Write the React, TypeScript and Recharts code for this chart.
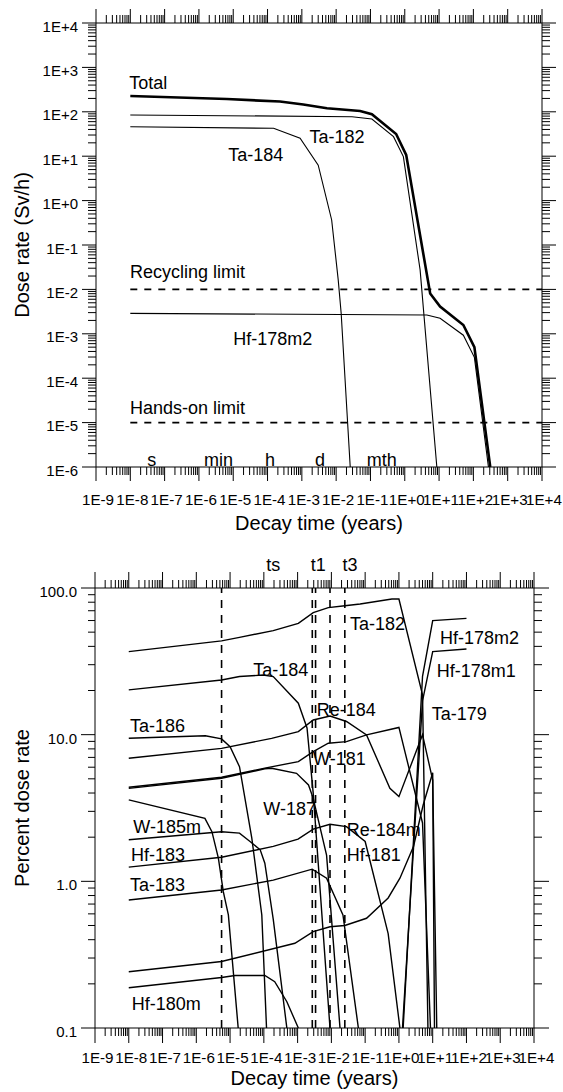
import { ComposedChart, Line, XAxis, YAxis, ReferenceLine, ReferenceDot } from 'recharts'

type Pt = { t: number; v: number }
const pts = (rows: number[][]): Pt[] => rows.map(([t, v]) => ({ t, v }))

// axes
const timeDecades = [-9, -8, -7, -6, -5, -4, -3, -2, -1, 0, 1, 2, 3, 4]
const timeTickLabels = ['1E-9', '1E-8', '1E-7', '1E-6', '1E-5', '1E-4', '1E-3', '1E-2', '1E-1', '1E+0', '1E+1', '1E+2', '1E+3', '1E+4']
const doseDecades = [-6, -5, -4, -3, -2, -1, 0, 1, 2, 3, 4]
const doseTickLabels = ['1E-6', '1E-5', '1E-4', '1E-3', '1E-2', '1E-1', '1E+0', '1E+1', '1E+2', '1E+3', '1E+4']
const pctDecades = [-1, 0, 1, 2]
const pctTickLabels = ['0.1', '1.0', '10.0', '100.0']

// dose rate (Sv/h) vs decay time (years)
const totalDose = pts([[1e-8, 227], [6.5e-6, 194], [2.3e-4, 170], [1.1e-3, 146], [5.4e-3, 120], [5e-2, 104], [0.11, 88], [0.56, 31.6], [1.1, 10.7], [5.5, 8.1e-3], [10.7, 4.1e-3], [51, 1.58e-3], [107, 5e-4], [310, 1e-6]])
const ta182Dose = pts([[1e-8, 85], [2.9e-2, 77.6], [0.11, 68.9], [0.47, 27.5], [0.91, 9.8], [2.8, 2.75e-2], [8.6, 1e-6]])
const ta184Dose = pts([[1e-8, 46], [1.5e-4, 42.5], [8.9e-4, 25.3], [3e-3, 6.3], [7.4e-3, 0.366], [1.15e-2, 1.62e-2], [1.4e-2, 2.9e-3], [2.57e-2, 1e-6]])
const hf178m2Dose = pts([[1e-8, 2.88e-3], [4.4, 2.65e-3], [10.7, 2.24e-3], [51, 9.3e-4], [107, 2.95e-4], [275, 1e-6]])
const recyclingLimit = pts([[1e-8, 1e-2], [1e4, 1e-2]])
const handsOnLimit = pts([[1e-8, 1e-5], [1e4, 1e-5]])

// percent dose rate vs decay time (years)
const ta182Pct = pts([[1e-8, 36.8], [5.6e-6, 43.6], [1.9e-5, 46.1], [1.9e-4, 51.2], [1.05e-3, 57.4], [2.9e-3, 68.0], [8.1e-3, 73.5], [2.5e-2, 75.7], [7.1e-2, 77.8], [0.62, 84.1], [1, 84.1], [5, 18.7], [10, 0.001]])
const ta184Pct = pts([[1e-8, 20.2], [5.6e-6, 23.6], [1.9e-5, 24.9], [9.6e-5, 25.5], [1.9e-4, 24.9], [1.05e-3, 16.4], [1.9e-3, 11.1], [2.9e-3, 3.98], [9.1e-3, 0.1]])
const ta186Pct = pts([[1e-8, 9.45], [1.85e-6, 9.84], [5.6e-6, 9.36], [1e-5, 8.28], [1.9e-5, 6.05], [4.4e-5, 1.97], [8.7e-5, 0.59], [1.2e-4, 0.1]])
const re184Pct = pts([[1e-8, 6.9], [5.6e-6, 8.07], [1.7e-4, 9.44], [1.05e-3, 10.5], [2.9e-3, 12.6], [9.1e-3, 13.4], [2.8e-2, 12.3], [0.11, 9.96], [0.54, 4.31], [1, 3.78], [5, 10], [10, 4.9], [13.2, 0.1]])
const w181Pct = pts([[1e-8, 4.38], [5.6e-6, 5.13], [1.07e-4, 5.91], [1.05e-3, 6.55], [2.9e-3, 7.66], [8.1e-3, 8.74], [2.8e-2, 8.96], [0.11, 9.96], [1, 11.2], [5, 2.5], [8.6, 0.1]])
const w187Pct = pts([[1e-8, 4.3], [5.6e-6, 5.05], [1.07e-4, 5.85], [1.7e-4, 5.9], [9.3e-4, 5.45], [2.1e-3, 4.54], [2.9e-3, 3.68], [7.2e-3, 1.51], [1.8e-2, 0.1]])
const w185mPct = pts([[1e-8, 3.59], [1.8e-6, 2.69], [2.9e-6, 2.18], [4.5e-6, 1.44], [6.3e-6, 0.85], [8.9e-6, 0.59], [1.74e-5, 0.1]])
const hf183Pct = pts([[1e-8, 1.92], [5.6e-6, 2.18], [1.9e-5, 2.13], [3.9e-5, 1.87], [7.8e-5, 1.64], [1.07e-4, 1.33], [1.9e-4, 0.55], [4.8e-4, 0.1]])
const hf181Pct = pts([[1e-8, 1.25], [5.6e-6, 1.46], [1.9e-4, 1.73], [1.03e-3, 1.94], [2.9e-3, 2.27], [9.1e-3, 2.45], [2.8e-2, 2.36], [0.1, 1.87], [0.48, 0.44], [1.07, 0.1]])
const ta183Pct = pts([[1e-8, 0.746], [5.6e-6, 0.873], [1.9e-4, 1.02], [2.7e-3, 1.21], [7.2e-3, 1.05], [2.2e-2, 0.59], [6.3e-2, 0.1]])
const ta179Pct = pts([[1e-8, 0.242], [5.6e-6, 0.284], [8.3e-4, 0.378], [2.9e-3, 0.454], [9.1e-3, 0.49], [2.5e-2, 0.5], [0.11, 0.56], [0.48, 0.77], [1.07, 1.05], [2.7, 1.73], [5.2, 3.3], [10, 5.5], [11.3, 0.1]])
const hf180mPct = pts([[1e-8, 0.188], [5.6e-6, 0.221], [1.4e-5, 0.228], [1.07e-4, 0.228], [2.1e-4, 0.207], [4.8e-4, 0.151], [1.05e-3, 0.1]])
const hf178m2Pct = pts([[1, 0.03], [5, 25], [10, 59.9], [100, 62.1]])
const hf178m1Pct = pts([[1, 0.04], [5, 17], [10, 36.8], [100, 38.4]])
const markerTimes = [5.6e-6, 2.72e-3, 3.4e-3, 9.1e-3, 2.5e-2]

const pctSeries = [ta182Pct, ta184Pct, ta186Pct, re184Pct, w181Pct, w187Pct, w185mPct, hf183Pct, hf181Pct, ta183Pct, ta179Pct, hf180mPct, hf178m2Pct, hf178m1Pct]

// annotations (left edge / centre, in data units)
const doseNotes = [
  { text: 'Total', t: 9.35e-9, v: 452 },
  { text: 'Ta-182', t: 1.66e-3, v: 27.5 },
  { text: 'Ta-184', t: 7.2e-6, v: 10.6 },
  { text: 'Recycling limit', t: 9.8e-9, v: 0.0247 },
  { text: 'Hf-178m2', t: 1.0e-5, v: 7.9e-4 },
  { text: 'Hands-on limit', t: 9.8e-9, v: 2.2e-5 },
]
const unitNotes = [
  { text: 's', t: 4.2e-8, v: 1.5e-6 },
  { text: 'min', t: 3.7e-6, v: 1.5e-6 },
  { text: 'h', t: 1.18e-4, v: 1.5e-6 },
  { text: 'd', t: 3.4e-3, v: 1.5e-6 },
  { text: 'mth', t: 0.213, v: 1.5e-6 },
]
const pctNotes = [
  { text: 'Ta-182', t: 0.0356, v: 57.5 },
  { text: 'Hf-178m2', t: 16.4, v: 45.8 },
  { text: 'Hf-178m1', t: 13.1, v: 27.2 },
  { text: 'Ta-179', t: 9.33, v: 14.0 },
  { text: 'Ta-184', t: 4.88e-5, v: 27.6 },
  { text: 'Re-184', t: 3.67e-3, v: 14.9 },
  { text: 'W-181', t: 2.85e-3, v: 6.9 },
  { text: 'Ta-186', t: 1.09e-8, v: 11.5 },
  { text: 'W-187', t: 9.6e-5, v: 3.15 },
  { text: 'W-185m', t: 1.36e-8, v: 2.36 },
  { text: 'Hf-183', t: 1.16e-8, v: 1.51 },
  { text: 'Ta-183', t: 1.09e-8, v: 0.955 },
  { text: 'Re-184m', t: 0.0284, v: 2.24 },
  { text: 'Hf-181', t: 0.0284, v: 1.51 },
  { text: 'Hf-180m', t: 1.22e-8, v: 0.1476 },
]
const timeNotes = [
  { text: 'ts', t: 1.9e-4, v: 143.5 },
  { text: 't1', t: 4.1e-3, v: 143.5 },
  { text: 't3', t: 0.0356, v: 143.5 },
]

const majorsOf = (decades: number[]) => decades.map((k) => Number(`1e${k}`))
const withMinors = (decades: number[]) => {
  const out: number[] = []
  decades.forEach((k, i) => {
    out.push(Number(`1e${k}`))
    if (i < decades.length - 1) for (let j = 2; j <= 9; j++) out.push(Number(`${j}e${k}`))
  })
  return out
}

type Side = 'bottom' | 'top' | 'left' | 'right'
function axisTick(side: Side, majors: number[], labels: string[] | null, major: number, minor: number, dx = 0, dy = 0, fs = 15) {
  return (props: any) => {
    const { x, y, payload } = props
    const val = Number(payload?.value)
    const idx = majors.findIndex((m) => Math.abs(m - val) <= m * 1e-6)
    const len = idx >= 0 ? major : minor
    let x2 = x
    let y2 = y
    if (side === 'bottom') y2 = y + len
    if (side === 'top') y2 = y - len
    if (side === 'left') x2 = x - len
    if (side === 'right') x2 = x + len
    const text = labels && idx >= 0 ? labels[idx] : null
    return (
      <g>
        <line x1={x} y1={y} x2={x2} y2={y2} stroke="#000" strokeWidth={1} />
        {text &&
          (side === 'bottom' ? (
            <text x={x + dx} y={y + dy} textAnchor="middle" fontSize={fs} fill="#000">
              {text}
            </text>
          ) : (
            <text x={x - dx} y={y + dy} textAnchor="end" fontSize={fs} fill="#000">
              {text}
            </text>
          ))}
      </g>
    )
  }
}

const AX = { stroke: '#000', strokeWidth: 1 }
const timeMajors = majorsOf(timeDecades)
const timeTicks = withMinors(timeDecades)
const doseMajors = majorsOf(doseDecades)
const doseTicks = withMinors(doseDecades)
const pctMajors = majorsOf(pctDecades)
const pctTicks = withMinors(pctDecades)

const note = (n: { text: string; t: number; v: number }, position: 'right' | 'center', key: string) => (
  <ReferenceDot
    key={key}
    x={n.t}
    y={n.v}
    r={0}
    fill="none"
    stroke="none"
    ifOverflow="visible"
    label={{ value: n.text, position, offset: 0, fontSize: 18, fill: '#000' }}
  />
)

function DoseChart() {
  return (
    <ComposedChart width={563} height={540} margin={{ top: 0, right: 0, bottom: 0, left: 0 }}>
      <XAxis dataKey="t" type="number" scale="log" domain={[1e-9, 1e4]} allowDataOverflow ticks={timeTicks} interval={0}
        tickSize={0} tickMargin={0} tickLine={false} axisLine={AX} height={73}
        tick={axisTick('bottom', timeMajors, timeTickLabels, 14, 8, 2, 38.4, 15.2)}
        label={{ value: 'Decay time (years)', position: 'insideBottom', offset: 10, fontSize: 20, fill: '#000' }} />
      <XAxis xAxisId="top" dataKey="t" orientation="top" type="number" scale="log" domain={[1e-9, 1e4]} allowDataOverflow
        ticks={timeTicks} interval={0} tickSize={0} tickMargin={0} tickLine={false} axisLine={AX} height={23}
        tick={axisTick('top', timeMajors, null, 14, 8)} />
      <YAxis dataKey="v" type="number" scale="log" domain={[1e-6, 1e4]} allowDataOverflow ticks={doseTicks} interval={0}
        tickSize={0} tickMargin={0} tickLine={false} axisLine={AX} width={96}
        tick={axisTick('left', doseMajors, doseTickLabels, 14, 8, 18, 8.5)}
        label={{ value: 'Dose rate (Sv/h)', angle: -90, position: 'insideLeft', offset: 22, fontSize: 20, fill: '#000', style: { textAnchor: 'middle' } }} />
      <YAxis yAxisId="right" dataKey="v" orientation="right" type="number" scale="log" domain={[1e-6, 1e4]} allowDataOverflow
        ticks={doseTicks} interval={0} tickSize={0} tickMargin={0} tickLine={false} axisLine={AX} width={21}
        tick={axisTick('right', doseMajors, null, 14, 8)} />
      <Line data={recyclingLimit} dataKey="v" stroke="#000" strokeWidth={1.8} strokeDasharray="7 7" dot={false} activeDot={false} isAnimationActive={false} />
      <Line data={handsOnLimit} dataKey="v" stroke="#000" strokeWidth={1.8} strokeDasharray="7 7" dot={false} activeDot={false} isAnimationActive={false} />
      <Line data={ta184Dose} dataKey="v" stroke="#000" strokeWidth={1.1} dot={false} activeDot={false} isAnimationActive={false} />
      <Line data={ta182Dose} dataKey="v" stroke="#000" strokeWidth={1.1} dot={false} activeDot={false} isAnimationActive={false} />
      <Line data={hf178m2Dose} dataKey="v" stroke="#000" strokeWidth={1.1} dot={false} activeDot={false} isAnimationActive={false} />
      <Line data={totalDose} dataKey="v" stroke="#000" strokeWidth={2.6} dot={false} activeDot={false} isAnimationActive={false} />
      {doseNotes.map((n, i) => note(n, 'right', `dn${i}`))}
      {unitNotes.map((n, i) => note(n, 'center', `un${i}`))}
    </ComposedChart>
  )
}

function PercentChart() {
  return (
    <ComposedChart width={563} height={552} margin={{ top: 0, right: 0, bottom: 0, left: 0 }}>
      <XAxis dataKey="t" type="number" scale="log" domain={[1e-9, 1e4]} allowDataOverflow ticks={timeTicks} interval={0}
        tickSize={0} tickMargin={0} tickLine={false} axisLine={AX} height={64}
        tick={axisTick('bottom', timeMajors, timeTickLabels, 15, 8, 2.5, 35.4, 15.2)}
        label={{ value: 'Decay time (years)', position: 'insideBottom', offset: 7, fontSize: 20, fill: '#000' }} />
      <XAxis xAxisId="top" dataKey="t" orientation="top" type="number" scale="log" domain={[1e-9, 1e4]} allowDataOverflow
        ticks={timeTicks} interval={0} tickSize={0} tickMargin={0} tickLine={false} axisLine={AX} height={48}
        tick={axisTick('top', timeMajors, null, 16, 8)} />
      <YAxis dataKey="v" type="number" scale="log" domain={[0.1, 100]} allowDataOverflow ticks={pctTicks} interval={0}
        tickSize={0} tickMargin={0} tickLine={false} axisLine={AX} width={95}
        tick={axisTick('left', pctMajors, pctTickLabels, 14, 7, 18, 9)}
        label={{ value: 'Percent dose rate', angle: -90, position: 'insideLeft', offset: 22, fontSize: 20, fill: '#000', style: { textAnchor: 'middle' } }} />
      <YAxis yAxisId="right" dataKey="v" orientation="right" type="number" scale="log" domain={[0.1, 100]} allowDataOverflow
        ticks={pctTicks} interval={0} tickSize={0} tickMargin={0} tickLine={false} axisLine={AX} width={29}
        tick={axisTick('right', pctMajors, null, 15, 8)} />
      {markerTimes.map((t) => (
        <ReferenceLine key={`m${t}`} x={t} stroke="#000" strokeWidth={1.6} strokeDasharray="8 7" />
      ))}
      {pctSeries.map((d, i) => (
        <Line key={`p${i}`} data={d} dataKey="v" stroke="#000" strokeWidth={1.4} dot={false} activeDot={false} isAnimationActive={false} />
      ))}
      {pctNotes.map((n, i) => note(n, 'right', `pn${i}`))}
      {timeNotes.map((n, i) => note(n, 'center', `tn${i}`))}
    </ComposedChart>
  )
}

export default function App() {
  return (
    <div style={{ position: 'absolute', left: 0, top: 0, width: 563, height: 1092, background: '#fff', fontFamily: '"Liberation Sans", Arial, sans-serif' }}>
      <DoseChart />
      <PercentChart />
    </div>
  )
}
